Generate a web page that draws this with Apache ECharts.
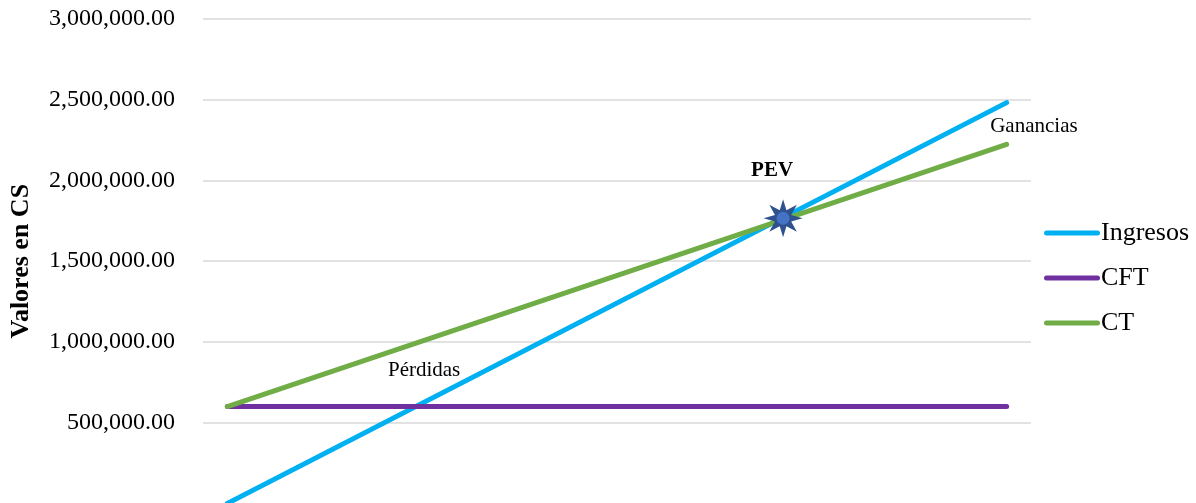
<!DOCTYPE html>
<html>
<head>
<meta charset="utf-8">
<script src="https://cdn.jsdelivr.net/npm/echarts@6/dist/echarts.min.js"></script>
<style>
  html, body { margin: 0; padding: 0; background: #fff; }
  #chart { width: 1196px; height: 503px; }
</style>
</head>
<body>
<div id="chart"></div>
<script>
// Break-even chart: revenue vs. fixed and total costs
const cantidades = [0, 16];
const ingresos = [0, 2482000];
const costoFijo = [600000, 600000];
const costoTotal = [600000, 2224000];
const puntoEquilibrio = [11.41, 1766000];
const notas = ['Pérdidas', 'Ganancias'];
const notasPos = [[4.04, 826000], [16.56, 2333000]];
const yTicks = { min: 0, max: 3000000, interval: 500000 };

const serif = "'Liberation Serif','Times New Roman',serif";

function pares(xs, ys) { return xs.map((x, i) => [x, ys[i]]); }

// eight-pointed star marker
function starPath(n, outer, inner) {
  let d = '';
  for (let i = 0; i < 2 * n; i++) {
    const r = i % 2 ? inner : outer;
    const a = Math.PI * i / n - Math.PI / 2;
    d += (i ? 'L' : 'M') + (50 + 50 * r * Math.cos(a)).toFixed(2) + ',' + (50 + 50 * r * Math.sin(a)).toFixed(2);
  }
  return 'path://' + d + 'Z';
}

const fmt = v => v.toLocaleString('en-US', { minimumFractionDigits: 2, maximumFractionDigits: 2 });

const lineBase = {
  type: 'line', symbol: 'none', silent: true,
  lineStyle: { width: 5, cap: 'round' }
};

const textPlain = { color: '#000', textBorderWidth: 0, textShadowBlur: 0 };

const chart = echarts.init(document.getElementById('chart'), null, { renderer: 'canvas' });
chart.setOption({
  animation: false,
  backgroundColor: '#fff',
  grid: { left: 203, top: 19, width: 828, height: 484.4, containLabel: false, outerBoundsMode: 'none' },
  xAxis: { type: 'value', min: -0.5, max: 16.5, show: false },
  yAxis: {
    type: 'value', min: yTicks.min, max: yTicks.max, interval: yTicks.interval,
    name: 'Valores en CS', nameLocation: 'middle', nameGap: 169,
    nameTextStyle: { fontFamily: serif, fontWeight: 'bold', fontSize: 26, color: '#000' },
    axisLine: { show: false }, axisTick: { show: false },
    axisLabel: { fontFamily: serif, fontSize: 24, color: '#000', margin: 28, showMinLabel: false, formatter: fmt },
    splitLine: { lineStyle: { color: '#d9d9d9', width: 1.5 } }
  },
  legend: {
    data: ['Ingresos', 'CFT', 'CT'],
    orient: 'vertical', left: 1039, top: 215,
    itemWidth: 56, itemHeight: 5, itemGap: 19,
    icon: 'path://M2.5,0L53.5,0A2.5,2.5 0 0 1 53.5,5L2.5,5A2.5,2.5 0 0 1 2.5,0Z',
    textStyle: { fontFamily: serif, fontSize: 26, color: '#000', lineHeight: 26, padding: [0, 0, 0, -4] }
  },
  series: [
    Object.assign({}, lineBase, { name: 'Ingresos', color: '#00B0F0', data: pares(cantidades, ingresos) }),
    Object.assign({}, lineBase, { name: 'CFT', color: '#7030A0', data: pares(cantidades, costoFijo) }),
    Object.assign({}, lineBase, { name: 'CT', color: '#70AD47', data: pares(cantidades, costoTotal) }),
    {
      type: 'scatter', name: 'PEV', clip: false, z: 5,
      symbol: starPath(8, 1, 0.45), symbolSize: [39, 38],
      itemStyle: { color: '#2F528F', opacity: 1 },
      label: Object.assign({
        show: true, position: 'inside', offset: [-11, -48], formatter: 'PEV',
        fontFamily: serif, fontWeight: 'bold', fontSize: 21
      }, textPlain),
      data: [puntoEquilibrio]
    },
    {
      type: 'scatter', name: 'PEV centro', clip: false, z: 6,
      symbol: 'circle', symbolSize: 13,
      itemStyle: { color: '#4472C4', opacity: 1 },
      data: [puntoEquilibrio]
    },
    {
      type: 'scatter', name: 'notas', clip: false, symbolSize: 0,
      itemStyle: { opacity: 1 },
      label: Object.assign({
        show: true, position: 'inside', fontFamily: serif, fontSize: 21,
        formatter: p => notas[p.dataIndex]
      }, textPlain),
      data: notasPos
    }
  ]
});
</script>
</body>
</html>
